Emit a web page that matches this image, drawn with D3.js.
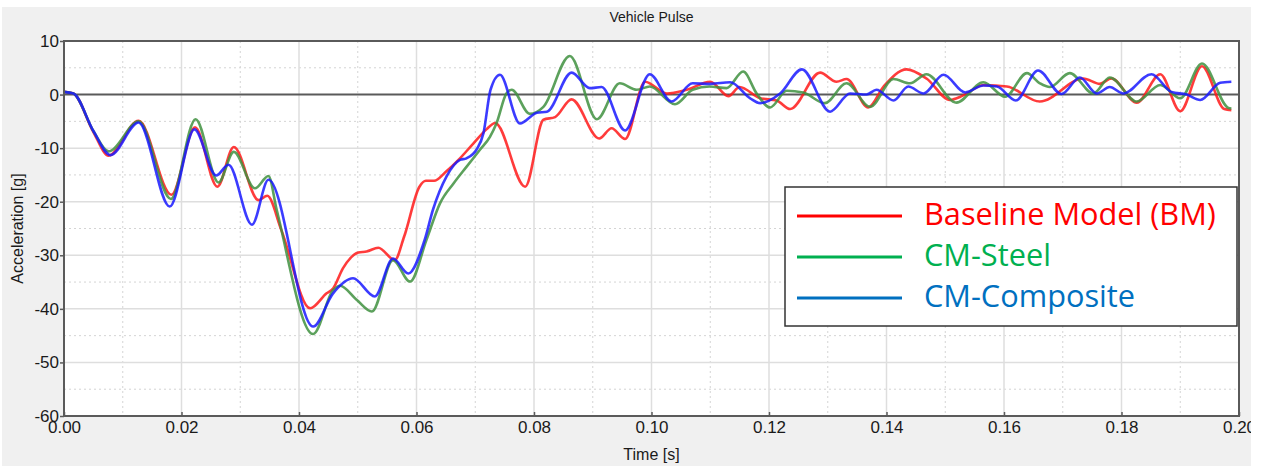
<!DOCTYPE html>
<html>
<head>
<meta charset="utf-8">
<script src="https://cdn.jsdelivr.net/npm/d3@7"></script>
<style>
  html, body { margin: 0; padding: 0; background: #ffffff; }
  svg { display: block; }
</style>
</head>
<body>
<svg id="chart" width="1262" height="466"></svg>
<script>
// Vehicle pulse: acceleration [g] over time [s] for three models.
const seriesNames = ["Baseline Model (BM)", "CM-Steel", "CM-Composite"];
const lineColors = ["#ff1a1a", "#3f9140", "#1a1aff"];
const legendTextColors = ["#ff0000", "#00b050", "#0070c0"];
const legendLineColors = ["#ff0000", "#00b050", "#0070c0"];

const xTicks = [0, 0.02, 0.04, 0.06, 0.08, 0.10, 0.12, 0.14, 0.16, 0.18, 0.20];
const yTicks = [10, 0, -10, -20, -30, -40, -50, -60];

// [time s, acceleration g]
const baseline = [
  [0, 0.5], [0.0016, 0.2], [0.005, -7.0], [0.0076, -11.4], [0.0127, -4.9],
  [0.0183, -18.7], [0.0223, -6.1], [0.0261, -17.2], [0.0289, -9.8], [0.0331, -19.7],
  [0.0346, -18.9], [0.037, -25.3], [0.0419, -39.9], [0.0447, -37.1], [0.0458, -36.2],
  [0.0475, -32.4], [0.0501, -29.5], [0.0515, -29.3], [0.0535, -28.6], [0.0563, -30.9],
  [0.0579, -26.5], [0.0605, -17.2], [0.0616, -16.1], [0.063, -16.1], [0.065, -14.4],
  [0.0674, -11.9], [0.0697, -9.1], [0.0719, -6.5], [0.0734, -5.3], [0.0785, -17.2],
  [0.0816, -4.7], [0.0836, -4.2], [0.0864, -0.9], [0.0911, -8.2], [0.0932, -6.3],
  [0.0955, -8.3], [0.0989, 2.4], [0.1026, 0.2], [0.106, 0.9], [0.110, 2.4],
  [0.1131, -0.3], [0.115, 1.4], [0.1185, -0.7], [0.1213, -1.1], [0.1236, -2.7],
  [0.1287, 4.1], [0.1315, 2.4], [0.1332, 2.9], [0.1369, -2.4], [0.1395, 1.5],
  [0.1434, 4.7], [0.1468, 3.0], [0.1508, -1.0], [0.153, -0.2], [0.1565, 1.8],
  [0.1605, 1.5], [0.1661, -1.3], [0.1735, 3.0], [0.1763, 2.0], [0.1783, 3.0],
  [0.1826, -1.5], [0.1866, 3.8], [0.190, -3.1], [0.1937, 5.3], [0.1975, -2.7],
  [0.1987, -2.9]
];

const steel = [
  [0, 0.5], [0.0016, 0.2], [0.005, -6.8], [0.0076, -10.6], [0.0127, -5.0],
  [0.0182, -19.5], [0.0224, -4.6], [0.0263, -16.4], [0.0289, -10.7], [0.0325, -17.5],
  [0.0348, -15.2], [0.0362, -21.5], [0.0424, -44.7], [0.0458, -36.5], [0.0470, -35.7],
  [0.0498, -38.3], [0.0524, -40.5], [0.0560, -30.9], [0.0589, -34.9], [0.0617, -27.1],
  [0.064, -20.3], [0.0663, -16.6], [0.0685, -13.5], [0.0708, -10.3], [0.0725, -7.9],
  [0.0736, -5.4], [0.0753, 0.2], [0.0762, 0.9], [0.0793, -3.6], [0.0816, -2.3],
  [0.0861, 7.2], [0.0907, -4.6], [0.0946, 2.1], [0.0975, 0.9], [0.0997, 1.5],
  [0.104, -1.8], [0.107, 0.9], [0.1099, 1.5], [0.1128, 1.2], [0.1156, 4.3],
  [0.1179, 0.2], [0.1202, -2.4], [0.1230, 0.7], [0.1258, 0.4], [0.1295, -1.6],
  [0.1332, 2.1], [0.1372, -2.3], [0.1412, 2.9], [0.1440, 2.1], [0.1468, 3.8],
  [0.1519, -1.5], [0.1565, 2.3], [0.1602, -0.4], [0.1639, 4.0], [0.1661, 2.1],
  [0.1678, 1.4], [0.1712, 4.0], [0.1752, 0.2], [0.178, 3.2], [0.1826, -1.3],
  [0.1866, 1.8], [0.190, -0.7], [0.1937, 5.8], [0.1982, -2.5], [0.1987, -2.6]
];

const composite = [
  [0, 0.5], [0.0016, 0.2], [0.005, -6.8], [0.0079, -11.3], [0.0127, -5.2],
  [0.018, -20.9], [0.0222, -6.5], [0.0259, -15.1], [0.028, -13.1], [0.032, -24.3],
  [0.0348, -15.9], [0.0424, -43.3], [0.0458, -37.1], [0.0492, -34.3], [0.0529, -37.7],
  [0.056, -30.6], [0.0586, -33.4], [0.0614, -27.1], [0.0628, -21.5], [0.0651, -15.3],
  [0.0674, -12.2], [0.0685, -11.9], [0.0702, -10.3], [0.0714, -7.2], [0.0726, 0.9],
  [0.0742, 3.7], [0.0776, -5.4], [0.0805, -3.4], [0.0822, -3.2], [0.0864, 4.1],
  [0.0895, 1.2], [0.0915, 1.4], [0.0955, -6.7], [0.0997, 3.8], [0.1034, -1.3],
  [0.107, 2.1], [0.110, 2.0], [0.1134, 2.3], [0.1168, -0.7], [0.1185, -1.6],
  [0.1219, 0.2], [0.1256, 4.7], [0.1304, -3.2], [0.1338, 0.2], [0.1366, 0.0],
  [0.1383, 0.9], [0.1412, -1.1], [0.1437, 1.5], [0.1463, 0.2], [0.1497, 3.7],
  [0.1534, 0.4], [0.1565, 1.7], [0.1588, 1.5], [0.162, -1.1], [0.1658, 4.5],
  [0.1698, 0.1], [0.1729, 3.2], [0.1758, 0.2], [0.1780, 1.4], [0.1803, 0.2],
  [0.1851, 3.8], [0.1885, 0.5], [0.1911, 0.0], [0.1934, -1.0], [0.1968, 2.2],
  [0.1987, 2.4]
];

const allSeries = [baseline, steel, composite];

const svg = d3.select("#chart");
const W = 1262, H = 466;
const plot = { left: 64, right: 1239, top: 41, bottom: 416 };
const fontUI = "Arial, 'Liberation Sans', sans-serif";

// grey panel behind the plot
svg.append("rect")
  .attr("x", 2).attr("y", 7)
  .attr("width", 1250).attr("height", H - 7)
  .attr("fill", "#f0f0f0");

svg.append("rect")
  .attr("x", plot.left).attr("y", plot.top)
  .attr("width", plot.right - plot.left).attr("height", plot.bottom - plot.top)
  .attr("fill", "#ffffff");

const x = d3.scaleLinear().domain([0, 0.2]).range([plot.left, plot.right]);
const y = d3.scaleLinear().domain([-60, 10]).range([plot.bottom, plot.top]);

// minor grid (dotted)
const minorX = d3.range(0.01, 0.2, 0.02);
const minorY = d3.range(-55, 10, 10);
const grid = svg.append("g");
grid.selectAll("line.mx").data(minorX).join("line")
  .attr("x1", d => x(d)).attr("x2", d => x(d))
  .attr("y1", plot.top).attr("y2", plot.bottom)
  .attr("stroke", "#d4d4d4").attr("stroke-width", 1).attr("stroke-dasharray", "2,3");
grid.selectAll("line.my").data(minorY).join("line")
  .attr("x1", plot.left).attr("x2", plot.right)
  .attr("y1", d => y(d)).attr("y2", d => y(d))
  .attr("stroke", "#d4d4d4").attr("stroke-width", 1).attr("stroke-dasharray", "2,3");

// major grid (solid)
grid.selectAll("line.gx").data(xTicks.slice(1, -1)).join("line")
  .attr("x1", d => x(d)).attr("x2", d => x(d))
  .attr("y1", plot.top).attr("y2", plot.bottom)
  .attr("stroke", "#dedede").attr("stroke-width", 1.5);
grid.selectAll("line.gy").data(yTicks.filter(v => v !== 0 && v !== 10 && v !== -60)).join("line")
  .attr("x1", plot.left).attr("x2", plot.right)
  .attr("y1", d => y(d)).attr("y2", d => y(d))
  .attr("stroke", "#dedede").attr("stroke-width", 1.5);

// zero line
svg.append("line")
  .attr("x1", plot.left).attr("x2", plot.right)
  .attr("y1", y(0)).attr("y2", y(0))
  .attr("stroke", "#5a5a5a").attr("stroke-width", 2);

// curves
const defs = svg.append("defs");
defs.append("filter").attr("id", "soft")
  .append("feGaussianBlur").attr("stdDeviation", 0.45);

const line = d3.line()
  .x(d => x(d[0]))
  .y(d => y(d[1]))
  .curve(d3.curveMonotoneX);

svg.append("g").attr("filter", "url(#soft)")
  .selectAll("path").data(allSeries).join("path")
  .attr("d", line)
  .attr("fill", "none")
  .attr("stroke", (d, i) => lineColors[i])
  .attr("stroke-width", 2.6)
  .attr("stroke-opacity", 0.85)
  .attr("stroke-linejoin", "round");

// plot frame
svg.append("rect")
  .attr("x", plot.left).attr("y", plot.top)
  .attr("width", plot.right - plot.left).attr("height", plot.bottom - plot.top)
  .attr("fill", "none").attr("stroke", "#5a5a5a").attr("stroke-width", 2);

// axes (plain hyphen for negative numbers)
const xAxis = d3.axisBottom(x).tickValues(xTicks)
  .tickFormat(d => d.toFixed(2)).tickSize(4).tickPadding(1);
const gx = svg.append("g").attr("transform", `translate(0,${plot.bottom})`).call(xAxis);
gx.select(".domain").remove();
gx.selectAll(".tick line").attr("stroke", "#5a5a5a").attr("stroke-width", 1.5).attr("y1", -4).attr("y2", 0);
gx.selectAll(".tick text")
  .attr("font-family", fontUI)
  .attr("font-size", 17).attr("fill", "#1a1a1a");

const yAxis = d3.axisLeft(y).tickValues(yTicks)
  .tickFormat(d => String(d)).tickSize(4).tickPadding(1);
const gy = svg.append("g").attr("transform", `translate(${plot.left},0)`).call(yAxis);
gy.select(".domain").remove();
gy.selectAll(".tick line").attr("stroke", "#5a5a5a").attr("stroke-width", 1.5);
gy.selectAll(".tick text")
  .attr("font-family", fontUI)
  .attr("font-size", 17).attr("fill", "#1a1a1a");

// titles
svg.append("text")
  .attr("x", (plot.left + plot.right) / 2).attr("y", 22)
  .attr("text-anchor", "middle")
  .attr("font-family", fontUI)
  .attr("font-size", 14).attr("fill", "#1a1a1a")
  .text("Vehicle Pulse");

svg.append("text")
  .attr("x", (plot.left + plot.right) / 2).attr("y", 460)
  .attr("text-anchor", "middle")
  .attr("font-family", fontUI)
  .attr("font-size", 16).attr("fill", "#1a1a1a")
  .text("Time [s]");

svg.append("text")
  .attr("transform", `translate(23,${(plot.top + plot.bottom) / 2}) rotate(-90)`)
  .attr("text-anchor", "middle")
  .attr("font-family", fontUI)
  .attr("font-size", 16).attr("fill", "#1a1a1a")
  .text("Acceleration [g]");

// white margin at the right edge of the window
svg.append("rect")
  .attr("x", 1251).attr("y", 0).attr("width", W - 1251).attr("height", H)
  .attr("fill", "#ffffff");

// legend
const legend = svg.append("g");
legend.append("rect")
  .attr("x", 785).attr("y", 187).attr("width", 452).attr("height", 139)
  .attr("fill", "#ffffff").attr("stroke", "#333333").attr("stroke-width", 1.5);

const rowY = d3.scalePoint().domain(seriesNames).range([216, 298]);
const rows = legend.selectAll("g.row").data(seriesNames).join("g");
rows.append("line")
  .attr("x1", 797).attr("x2", 902)
  .attr("y1", d => rowY(d)).attr("y2", d => rowY(d))
  .attr("stroke", (d, i) => legendLineColors[i]).attr("stroke-width", 3);
const labels = rows.append("text")
  .attr("x", 924).attr("y", d => rowY(d) + 9)
  .attr("font-family", "'Open Sans', 'Noto Sans', sans-serif")
  .attr("font-size", 26)
  .attr("fill", (d, i) => legendTextColors[i])
  .text(d => d);

// size the legend text so the longest label spans the box
const longest = labels.filter((d, i) => i === 0).node().getComputedTextLength();
const fs = 26 * 292 / longest;
labels.attr("font-size", fs);
</script>
</body>
</html>
